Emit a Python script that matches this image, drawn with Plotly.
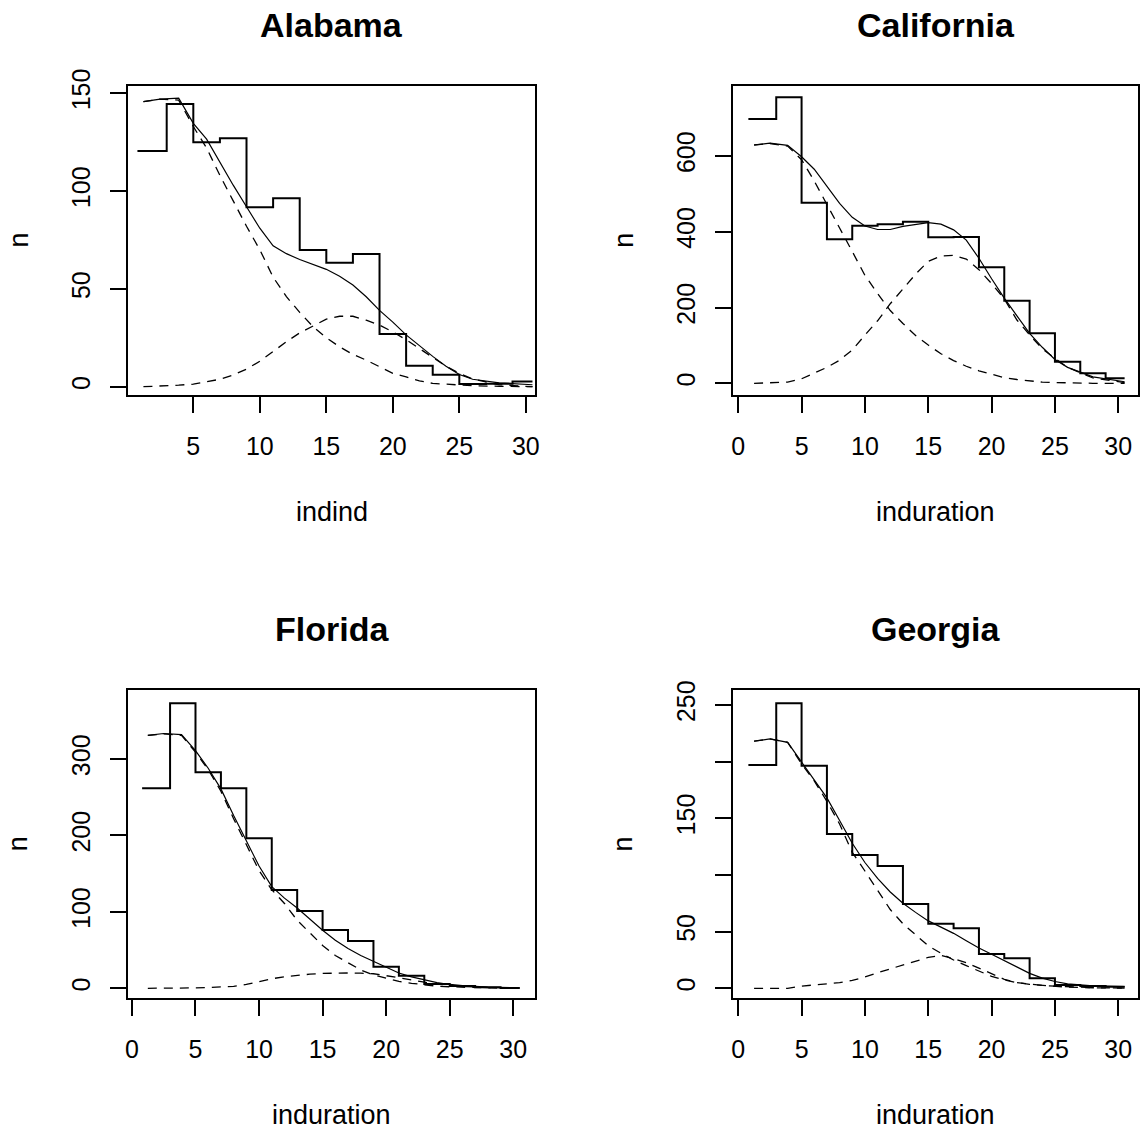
import plotly.graph_objects as go

# ---------------- data ----------------
states = ["Alabama", "California", "Florida", "Georgia"]
xlabels = ["indind", "induration", "induration", "induration"]

# step histogram (type "s") positions
hist_x = [0.8, 3, 5, 7, 9, 11, 13, 15, 17, 19, 21, 23, 25, 27, 29, 30.5]

hist_alabama = [120.5, 144.5, 125, 127, 91.7, 96.3, 69.9, 63.4, 67.8, 26.9, 10.7, 6.1, 1.4, 1.5, 2.6, 2.6]
hist_california = [697.6, 754.8, 476.6, 380, 416, 419.6, 426.5, 385.3, 386, 306, 218, 132, 57, 26.4, 13.2, 13.2]
hist_florida = [261.8, 373, 282.7, 261.8, 196.3, 128.7, 101.2, 76.3, 61.9, 28.3, 16.5, 5.6, 3, 1.5, 0.5, 0.5]
hist_georgia = [197, 251.5, 196.4, 136.1, 117.6, 107.9, 74.4, 57, 53, 30.3, 26.5, 8.8, 2.9, 2, 1.5, 1.5]

# fitted mixture curves
fit_x = [1.25, 2.5, 3.9, 5, 6, 7, 8, 9, 10, 11, 12, 13, 14, 15, 16, 17, 18, 19, 20,
         21, 22, 23, 24, 25, 26, 28, 30.5]

fit_alabama = [145.7, 147, 147.5, 134.6, 126.5, 114.5, 103, 92, 81, 72, 68, 65, 62.5, 60,
               56.5, 52, 46, 39, 33, 26.5, 21, 15.5, 10.5, 6.2, 3.8, 2, 1]
c1_alabama = [145.7, 147, 146.5, 133, 122, 108, 95, 82, 70, 56, 46, 38, 30.7, 25, 20.4, 16.5,
              13.6, 10, 6.8, 5, 3, 1.7, 1.2, 1, 0.5, 0.2, 0]
c2_alabama = [0, 0.3, 0.8, 1.3, 2.5, 3.8, 6, 9, 13, 18, 23, 27.5, 31, 34.5, 36, 36, 34, 31.5,
              28, 24, 19.5, 15, 10.5, 6.8, 4, 1, 0]

fit_california = [629, 634, 628, 598, 565, 519, 475, 438, 415, 406, 406, 414, 420, 424, 420,
                  405, 378, 330, 276, 225, 178, 132, 95, 63, 42, 17, 4]
c1_california = [629, 633, 626, 590, 534, 470, 410, 348, 285, 237, 192, 158, 126, 101, 78, 60,
                 45, 33, 23, 15, 10, 6, 3, 2, 1, 0, 0]
c2_california = [0, 0.5, 3, 12, 27, 42, 61, 88, 127, 165, 210, 250, 288, 322, 336, 338, 328,
                 300, 263, 223, 167, 128, 91, 66, 42, 14, 2]

fit_florida = [331, 333.5, 332, 311, 288, 261, 226, 192, 160, 133, 118, 105, 90, 76, 63, 52, 43,
               35, 27, 20, 15, 11, 7.5, 5, 3.5, 1.5, 0.5]
c1_florida = [331, 333, 331, 309, 286, 258, 222, 187, 154, 129, 111, 89, 72, 56, 43, 33, 24,
              17.5, 13, 9, 6.5, 4.5, 2.8, 2, 1.3, 0.5, 0]
c2_florida = [0, 0, 0.2, 0.5, 1, 1.5, 2.5, 5, 9, 12.5, 15, 17, 18.5, 19.5, 20, 20, 19.8, 19,
              16.5, 14, 11, 8, 5.5, 4, 2.5, 1, 0.2]

fit_georgia = [218, 220, 217, 200, 184.5, 168, 148, 128, 111, 97, 85, 75, 67, 59.5, 54, 48.5, 42,
               35.5, 30, 24.5, 19, 13.2, 9, 6, 4, 2.2, 1.5]
c1_georgia = [218, 220, 217, 198, 183, 165, 145, 120, 103.5, 87, 69.5, 57, 47, 37.5, 31, 25, 20,
              15, 10.5, 7.5, 5, 3.5, 2.5, 1.5, 1, 0.5, 0.2]
c2_georgia = [0, 0, 0, 2, 3, 3.8, 5, 7, 10, 13.8, 17.2, 20.7, 24, 27.3, 29, 26.2, 22.7, 18, 13,
              8, 5, 3.5, 2.5, 2, 1.5, 0.5, 0.2]

hists = [hist_alabama, hist_california, hist_florida, hist_georgia]
fits = [fit_alabama, fit_california, fit_florida, fit_georgia]
comp1 = [c1_alabama, c1_california, c1_florida, c1_georgia]
comp2 = [c2_alabama, c2_california, c2_florida, c2_georgia]

x_ranges = [[0.09, 30.69], [-0.39, 31.58], [-0.31, 31.71], [-0.39, 31.58]]
y_ranges = [[-4.24, 153.7], [-30.9, 784.7], [-13.1, 390.4], [-8.8, 263.2]]

x_tickvals = [0, 5, 10, 15, 20, 25, 30]
y_tickvals = [
    [0, 50, 100, 150],
    [0, 200, 400, 600],
    [0, 100, 200, 300],
    [0, 50, 100, 150, 200, 250],
]
y_ticktext = [
    ["0", "50", "100", "150"],
    ["0", "200", "400", "600"],
    ["0", "100", "200", "300"],
    ["0", "50", "", "150", "", "250"],
]

# ---------------- layout geometry (pixels) ----------------
W, H = 1145, 1135
boxes = [  # left, right, top, bottom
    (128, 535, 86, 395),
    (733.3, 1138.3, 86, 395),
    (128, 535, 690, 998.3),
    (733.3, 1138.3, 690, 998.3),
]

TICK_FONT = dict(family="Liberation Sans, Arial", size=25, color="black")
LAB_FONT = dict(family="Liberation Sans, Arial", size=27, color="black")
TITLE_FONT = dict(family="Liberation Sans, Arial", size=34, color="black")

fig = go.Figure()
annotations = []
layout_axes = {}

for i in range(4):
    sfx = "" if i == 0 else str(i + 1)
    xa, ya = "x" + sfx, "y" + sfx
    fig.add_trace(go.Scatter(x=hist_x, y=hists[i], mode="lines",
                             line=dict(color="black", width=2, shape="hv"),
                             xaxis=xa, yaxis=ya, hoverinfo="skip"))
    fig.add_trace(go.Scatter(x=fit_x, y=fits[i], mode="lines", line=dict(color="black", width=1.2),
                             xaxis=xa, yaxis=ya, hoverinfo="skip"))
    fig.add_trace(go.Scatter(x=fit_x, y=comp1[i], mode="lines",
                             line=dict(color="black", width=1.3, dash="9px,7px"),
                             xaxis=xa, yaxis=ya, hoverinfo="skip"))
    fig.add_trace(go.Scatter(x=fit_x, y=comp2[i], mode="lines",
                             line=dict(color="black", width=1.3, dash="9px,7px"),
                             xaxis=xa, yaxis=ya, hoverinfo="skip"))

    l, r, t, b = boxes[i]
    common = dict(showline=True, linecolor="black", linewidth=2, mirror=True,
                  ticks="outside", ticklen=16, tickwidth=2, tickcolor="black",
                  showgrid=False, zeroline=False, tickfont=TICK_FONT, fixedrange=True)
    layout_axes["xaxis" + sfx] = dict(common, domain=[l / W, r / W], range=x_ranges[i],
                                      tickmode="array", tickvals=x_tickvals,
                                      ticktext=[str(v) for v in x_tickvals],
                                      anchor=ya, ticklabelstandoff=12)
    layout_axes["yaxis" + sfx] = dict(common, domain=[1 - b / H, 1 - t / H], range=y_ranges[i],
                                      tickmode="array", tickvals=y_tickvals[i],
                                      ticktext=y_ticktext[i],
                                      anchor=xa, tickangle=-90, ticklabelstandoff=10)

    cx = (l + r) / 2
    cy = (t + b) / 2
    annotations.append(dict(text="<b>" + states[i] + "</b>", x=cx / W, y=1 - (t - 61) / H,
                            xref="paper", yref="paper", showarrow=False, font=TITLE_FONT,
                            xanchor="center", yanchor="middle"))
    annotations.append(dict(text=xlabels[i], x=cx / W, y=1 - (b + 117) / H,
                            xref="paper", yref="paper", showarrow=False, font=LAB_FONT,
                            xanchor="center", yanchor="middle"))
    annotations.append(dict(text="n", x=(l - 110) / W, y=1 - cy / H, textangle=-90,
                            xref="paper", yref="paper", showarrow=False, font=LAB_FONT,
                            xanchor="center", yanchor="middle"))

fig.update_layout(
    width=W, height=H, margin=dict(l=0, r=0, t=0, b=0),
    paper_bgcolor="white", plot_bgcolor="white", showlegend=False,
    template="none", annotations=annotations, **layout_axes
)

fig.write_html("out.html")
